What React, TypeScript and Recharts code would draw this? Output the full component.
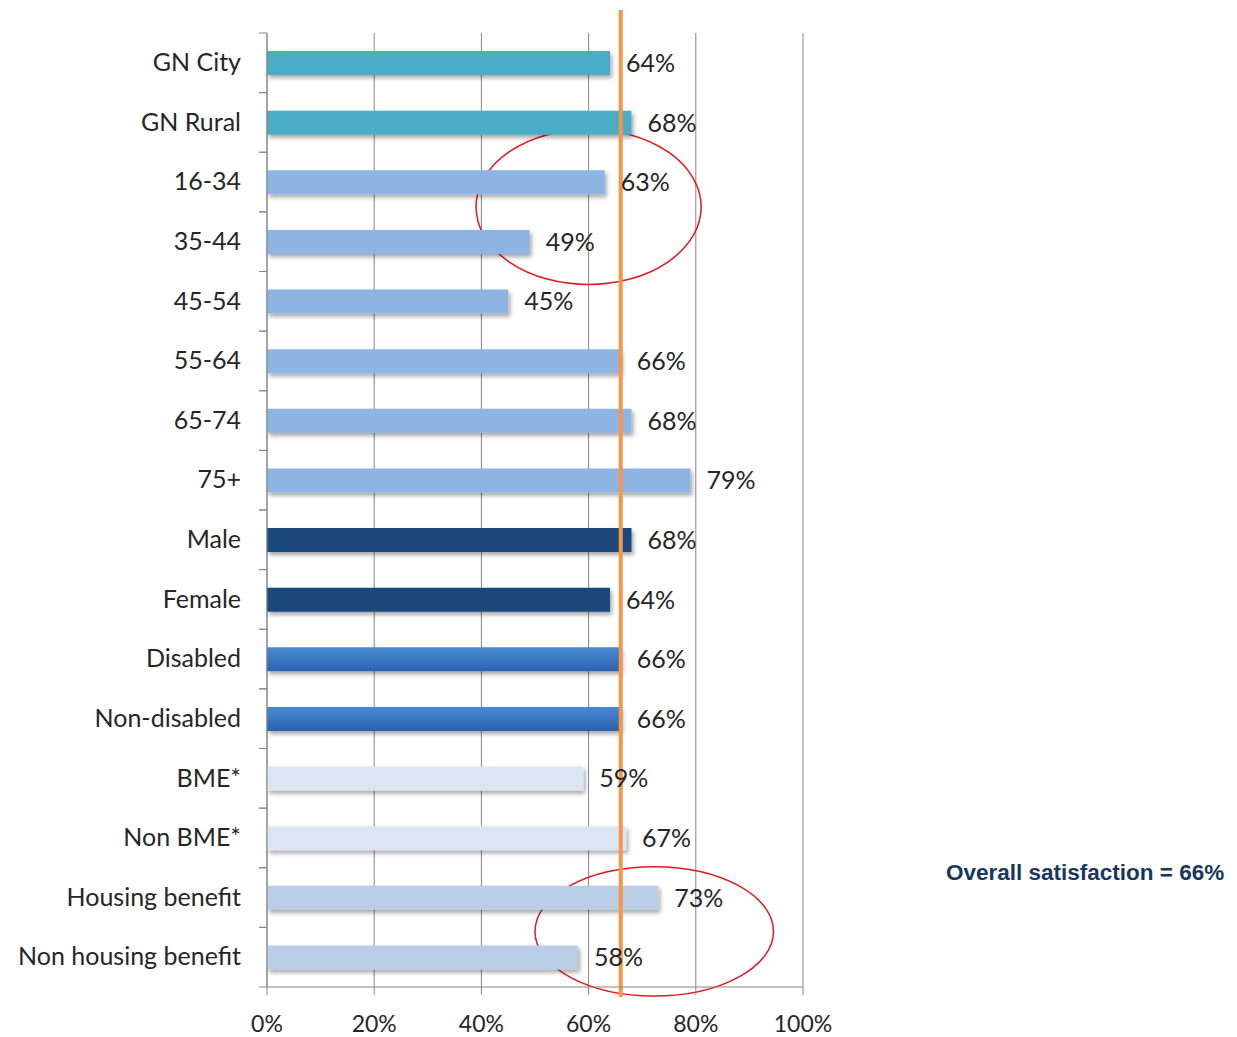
import React from 'react';
import { BarChart, Bar, XAxis, YAxis, CartesianGrid, Cell, LabelList, ReferenceLine, ReferenceArea } from 'recharts';

const categories = [
  'GN City', 'GN Rural', '16-34', '35-44', '45-54', '55-64', '65-74', '75+',
  'Male', 'Female', 'Disabled', 'Non-disabled', 'BME*', 'Non BME*',
  'Housing benefit', 'Non housing benefit',
];
const satisfaction = [64, 68, 63, 49, 45, 66, 68, 79, 68, 64, 66, 66, 59, 67, 73, 58];
const xTicks = [0, 20, 40, 60, 80, 100];
const overall = 66;
// highlighted groups: [from category, to category, from %, to %]
const highlightA = ['16-34', '35-44', 39, 81] as const;
const highlightB = ['Housing benefit', 'Non housing benefit', 50, 94.5] as const;

const barFills = [
  '#4BACC6', '#4BACC6',
  '#8EB4E3', '#8EB4E3', '#8EB4E3', '#8EB4E3', '#8EB4E3', '#8EB4E3',
  '#1F497D', '#1F497D',
  'url(#disabledGrad)', 'url(#disabledGrad)',
  '#DCE6F2', '#DCE6F2',
  '#B9CDE5', '#B9CDE5',
];

const data = categories.map((name, i) => ({ name, value: satisfaction[i] }));

const W = 1237;
const H = 1037;
const TOP = 33;
const BOTTOM = 987;
const BAND = (BOTTOM - TOP) / categories.length;
const AXIS = '#868686';
const TEXT = '#262626';
const FONT = 'Lato, "Noto Sans", sans-serif';

function CategoryTick(props: any) {
  const { x, y, payload } = props;
  return (
    <g>
      <text x={x} y={y} dy="0.33em" textAnchor="end" fontSize={25} fill={TEXT} fontFamily={FONT}>
        {payload.value}
      </text>
      <line x1={x + 18} x2={x + 26} y1={y - BAND / 2} y2={y - BAND / 2} stroke={AXIS} />
      <line x1={x + 18} x2={x + 26} y1={y + BAND / 2} y2={y + BAND / 2} stroke={AXIS} />
    </g>
  );
}

function ellipseShape(dy: number, pad: number) {
  return (p: any) => (
    <ellipse
      cx={p.x + p.width / 2}
      cy={p.y + p.height / 2 + dy}
      rx={p.width / 2}
      ry={p.height / 2 + pad}
      fill="none"
      stroke="#E8161B"
      strokeWidth={1.5}
    />
  );
}

export default function App() {
  return (
    <div style={{ position: 'absolute', left: 0, top: 0, width: W, height: H, background: '#fff' }}>
      <BarChart
        width={W}
        height={H}
        data={data}
        layout="vertical"
        margin={{ top: TOP, right: W - 803, bottom: 20, left: 0 }}
      >
        <defs>
          <linearGradient id="disabledGrad" x1="0" y1="0" x2="0" y2="1">
            <stop offset="0%" stopColor="#4A89D6" />
            <stop offset="100%" stopColor="#2C62AC" />
          </linearGradient>
          <filter id="barShadow" x="-5%" y="-30%" width="110%" height="180%">
            <feDropShadow dx="2" dy="3" stdDeviation="2" floodColor="#000" floodOpacity="0.35" />
          </filter>
        </defs>
        <CartesianGrid horizontal={false} stroke={AXIS} strokeWidth={1} />
        <XAxis
          type="number"
          domain={[0, 100]}
          ticks={xTicks}
          tickFormatter={(v) => `${v}%`}
          stroke={AXIS}
          tickSize={8}
          tickMargin={21}
          height={30}
          tick={{ fontSize: 23, fill: TEXT, fontFamily: FONT }}
        />
        <YAxis
          type="category"
          dataKey="name"
          width={267}
          stroke={AXIS}
          tickLine={false}
          tickSize={8}
          tickMargin={18}
          interval={0}
          tick={<CategoryTick />}
        />
        <Bar dataKey="value" barSize={24} isAnimationActive={false}>
          {data.map((d, i) => (
            <Cell key={d.name} fill={barFills[i]} filter="url(#barShadow)" />
          ))}
          <LabelList
            dataKey="value"
            position="right"
            offset={16}
            formatter={(v: any) => `${v}%`}
            style={{ fontSize: 25, fill: TEXT, fontFamily: FONT }}
          />
        </Bar>
        <ReferenceArea
          y1={highlightA[0]}
          y2={highlightA[1]}
          x1={highlightA[2]}
          x2={highlightA[3]}
          shape={ellipseShape(-5, 18)}
        />
        <ReferenceArea
          y1={highlightB[0]}
          y2={highlightB[1]}
          x1={highlightB[2]}
          x2={highlightB[3]}
          shape={ellipseShape(4, 5)}
        />
        <ReferenceLine
          x={overall}
          shape={(p: any) => (
            <line
              x1={p.x1}
              x2={p.x2}
              y1={Math.min(p.y1, p.y2) - 23}
              y2={Math.max(p.y1, p.y2) + 10}
              stroke="#F79646"
              strokeWidth={4}
            />
          )}
        />
      </BarChart>
      <div
        style={{
          position: 'absolute',
          left: 946,
          top: 860,
          fontFamily: '"Liberation Sans", Arial, sans-serif',
          fontWeight: 'bold',
          fontSize: 22.5,
          color: '#17375E',
          whiteSpace: 'nowrap',
        }}
      >
        Overall satisfaction = 66%
      </div>
    </div>
  );
}
